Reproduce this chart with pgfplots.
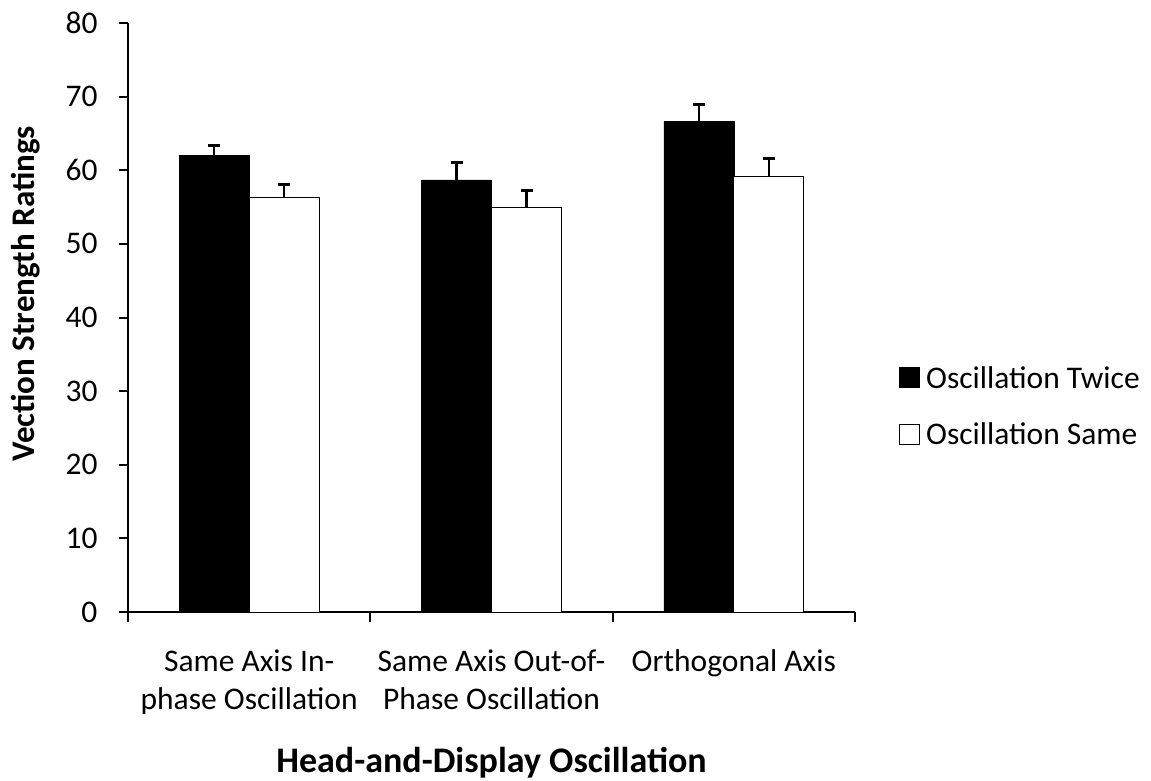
\documentclass[border=0pt]{standalone}
\usepackage{fontspec}
\setmainfont{Carlito}
\usepackage{pgfplots}
\pgfplotsset{compat=1.18}
\pgfplotstableread{
x y e
1 62.0 1.3
2 58.7 2.4
3 66.6 2.3
}\twice
\pgfplotstableread{
x y e
1 56.3 1.7
2 54.9 2.4
3 59.2 2.4
}\same
\begin{document}
\begin{tikzpicture}[x=1pt,y=1pt]
\path[use as bounding box] (-128,-168) rectangle (1023,612);
\begin{axis}[
  at={(0,0)}, anchor=south west,
  width=727pt, height=589pt, scale only axis,
  xmin=0.5, xmax=3.5, ymin=0, ymax=80,
  ytick={0,10,...,80},
  xtick={1,2,3},
  xticklabels={{Same Axis In-\\phase Oscillation},{Same Axis Out-of-\\Phase Oscillation},{Orthogonal Axis\\\strut}},
  minor xtick={0.5,1.5,2.5,3.5},
  major x tick style={draw=none},
  tick align=outside,
  major tick length=9pt, minor tick length=10pt,
  every tick/.style={black, line width=2pt},
  axis x line*=bottom, axis y line*=left,
  axis line style={line width=2pt, black},
  /pgf/number format/assume math mode=true,
  tick label style={font=\fontsize{31.5}{38}\selectfont},
  xticklabel style={align=center, yshift=-25pt},
  yticklabel style={xshift=-18pt},
  xlabel={\textbf{Head-and-Display Oscillation}},
  xlabel style={at={(axis description cs:0.5,0)}, anchor=center, yshift=-151pt, font=\fontsize{36}{38}\selectfont},
  ylabel={\textbf{Vection Strength Ratings}},
  ylabel style={at={(axis description cs:-0.141,0.54)}, anchor=center, font=\fontsize{33}{36}\selectfont},
  ybar=0pt, bar width=70pt,
  legend style={at={(axis description cs:1.0605,0.3497)}, anchor=west, draw=none, fill=none, inner sep=0pt, row sep=29pt, font=\fontsize{31.5}{36}\selectfont},
  legend cell align=left,
  legend image code/.code={\draw[#1, draw=black, line width=1pt] (0pt,-10pt) rectangle (20pt,10pt); \path (24pt,0pt);},
]
\addplot[fill=black, draw=black, error bars/.cd, y dir=plus, y explicit,
  error bar style={line width=2.5pt, black},
  error mark options={rotate=90, mark size=6pt, line width=3pt, black}]
  table[x=x, y=y, y error=e] {\twice};
\addlegendentry{Oscillation Twice}
\addplot[fill=white, draw=black, line width=1pt, error bars/.cd, y dir=plus, y explicit,
  error bar style={line width=2.5pt, black},
  error mark options={rotate=90, mark size=6pt, line width=3pt, black}]
  table[x=x, y=y, y error=e] {\same};
\addlegendentry{Oscillation Same}
\end{axis}
\end{tikzpicture}
\end{document}
